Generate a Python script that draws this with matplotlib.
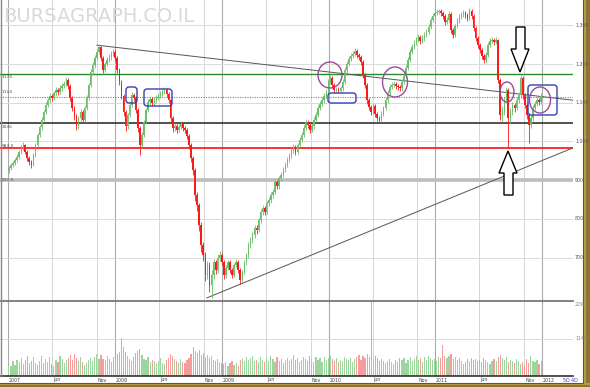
import matplotlib
matplotlib.use('Agg')
import matplotlib.pyplot as plt
import matplotlib.dates as mdates
from matplotlib.transforms import Affine2D, blended_transform_factory
from matplotlib.patches import Ellipse, FancyBboxPatch, Polygon, Rectangle
import datetime as dt

# ---------------- data (weekly candles, 2007-2011) ----------------
opens = [
 925, 931, 939, 944, 952, 959, 972, 983, 990, 972, 957, 946, 939, 965, 990, 1016, 1037, 1055, 1076, 1094, 1106, 1117, 1112, 1125, 1132, 1127, 1137, 1143, 1148, 1158, 1143, 1112, 1086, 1065, 1039, 1060, 1076, 1055, 1086, 1112, 1145, 1179, 1197, 1215, 1230, 1243, 1215, 1184, 1199, 1210, 1217, 1225,
 1230, 1215, 1184, 1153, 1117, 1076, 1039, 1068, 1094, 1119, 1112, 1081, 1034, 990, 1016, 1050, 1081, 1101, 1109, 1099, 1106, 1112, 1117, 1122, 1127, 1132, 1122, 1106, 1060, 1034, 1039, 1029, 1037, 1044, 1034, 1029, 1014, 990, 957, 926, 861, 836, 784, 732, 706, 655, 681, 629, 655, 688, 668, 699,
 706, 688, 655, 673, 688, 668, 655, 681, 688, 668, 642, 663, 688, 706, 732, 745, 758, 776, 771, 797, 818, 828, 818, 841, 848, 861, 869, 895, 884, 905, 913, 926, 939, 952, 962, 977, 985, 972, 990, 1003, 1016, 1034, 1050, 1042, 1029, 1039, 1055, 1068, 1086, 1096, 1106, 1117,
 1127, 1153, 1163, 1145, 1132, 1135, 1130, 1137, 1153, 1184, 1199, 1212, 1220, 1225, 1233, 1223, 1217, 1204, 1171, 1145, 1106, 1088, 1076, 1091, 1070, 1060, 1055, 1070, 1086, 1106, 1125, 1140, 1145, 1148, 1143, 1140, 1137, 1153, 1168, 1189, 1210, 1230, 1243, 1254, 1261, 1269, 1259, 1266, 1274, 1282, 1295, 1313,
 1323, 1331, 1334, 1335, 1331, 1323, 1308, 1313, 1328, 1287, 1274, 1297, 1310, 1321, 1326, 1331, 1326, 1318, 1336, 1323, 1292, 1266, 1248, 1235, 1220, 1210, 1223, 1248, 1259, 1261, 1256, 1261, 1158, 1068, 1076, 1106, 1132, 1060, 1076, 1094, 1086, 1106, 1119, 1163, 1119, 1094, 1068, 1042, 1060, 1086, 1096, 1106, 1101]
closes = [
 931, 939, 944, 952, 959, 972, 983, 990, 972, 957, 946, 939, 965, 990, 1016, 1037, 1055, 1076, 1094, 1106, 1117, 1112, 1125, 1132, 1127, 1137, 1143, 1148, 1158, 1143, 1112, 1086, 1065, 1039, 1060, 1076, 1055, 1086, 1112, 1145, 1179, 1197, 1215, 1230, 1243, 1215, 1184, 1199, 1210, 1217, 1225, 1230,
 1215, 1184, 1153, 1117, 1076, 1039, 1068, 1094, 1119, 1112, 1081, 1034, 990, 1016, 1050, 1081, 1101, 1109, 1099, 1106, 1112, 1117, 1122, 1127, 1132, 1122, 1106, 1060, 1034, 1039, 1029, 1037, 1044, 1034, 1029, 1014, 990, 957, 926, 861, 836, 784, 732, 706, 655, 681, 629, 655, 688, 668, 699, 706,
 688, 655, 673, 688, 668, 655, 681, 688, 668, 642, 663, 688, 706, 732, 745, 758, 776, 771, 797, 818, 828, 818, 841, 848, 861, 869, 895, 884, 905, 913, 926, 939, 952, 962, 977, 985, 972, 990, 1003, 1016, 1034, 1050, 1042, 1029, 1039, 1055, 1068, 1086, 1096, 1106, 1117, 1127,
 1153, 1163, 1145, 1132, 1135, 1130, 1137, 1153, 1184, 1199, 1212, 1220, 1225, 1233, 1223, 1217, 1204, 1171, 1145, 1106, 1088, 1076, 1091, 1070, 1060, 1055, 1070, 1086, 1106, 1125, 1140, 1145, 1148, 1143, 1140, 1137, 1153, 1168, 1189, 1210, 1230, 1243, 1254, 1261, 1269, 1259, 1266, 1274, 1282, 1295, 1313, 1323,
 1331, 1334, 1335, 1331, 1323, 1308, 1313, 1328, 1287, 1274, 1297, 1310, 1321, 1326, 1331, 1326, 1318, 1336, 1323, 1292, 1266, 1248, 1235, 1220, 1210, 1223, 1248, 1259, 1261, 1256, 1261, 1158, 1068, 1076, 1106, 1132, 1060, 1076, 1094, 1086, 1106, 1119, 1163, 1119, 1094, 1068, 1042, 1060, 1086, 1096, 1106, 1101, 1117]
highs = [
 937, 944, 950, 957, 966, 977, 990, 997, 994, 978, 961, 952, 969, 996, 1022, 1043, 1062, 1082, 1101, 1113, 1124, 1123, 1131, 1139, 1138, 1144, 1150, 1156, 1166, 1163, 1147, 1117, 1091, 1070, 1066, 1083, 1080, 1092, 1119, 1151, 1186, 1204, 1222, 1237, 1250, 1247, 1219, 1205, 1217, 1224, 1232, 1238,
 1236, 1219, 1189, 1158, 1122, 1081, 1074, 1101, 1128, 1125, 1116, 1086, 1039, 1023, 1056, 1087, 1108, 1116, 1114, 1113, 1119, 1124, 1129, 1134, 1140, 1137, 1127, 1110, 1065, 1046, 1044, 1044, 1051, 1049, 1039, 1034, 1019, 995, 962, 932, 870, 842, 792, 741, 714, 692, 688, 668, 697, 694, 708, 716,
 712, 693, 682, 695, 693, 673, 687, 696, 694, 672, 669, 694, 713, 739, 753, 766, 783, 784, 803, 825, 836, 833, 847, 856, 868, 877, 901, 900, 911, 921, 933, 946, 959, 969, 984, 992, 990, 996, 1010, 1023, 1041, 1057, 1055, 1047, 1046, 1062, 1075, 1093, 1103, 1113, 1124, 1134,
 1160, 1171, 1168, 1150, 1141, 1140, 1143, 1160, 1191, 1206, 1219, 1227, 1232, 1241, 1238, 1229, 1222, 1209, 1176, 1150, 1112, 1094, 1098, 1096, 1076, 1066, 1077, 1092, 1113, 1132, 1147, 1152, 1155, 1154, 1149, 1146, 1160, 1175, 1196, 1217, 1237, 1250, 1261, 1268, 1276, 1274, 1273, 1281, 1289, 1302, 1320, 1330,
 1338, 1341, 1342, 1340, 1336, 1328, 1320, 1335, 1333, 1293, 1303, 1317, 1328, 1333, 1338, 1336, 1331, 1343, 1341, 1328, 1297, 1272, 1254, 1241, 1226, 1230, 1255, 1266, 1268, 1267, 1268, 1265, 1164, 1090, 1114, 1140, 1137, 1085, 1102, 1100, 1114, 1127, 1171, 1168, 1124, 1100, 1074, 1068, 1093, 1104, 1113, 1112, 1124]
lows = [
 918, 926, 933, 940, 947, 954, 966, 977, 966, 950, 940, 930, 935, 960, 985, 1010, 1030, 1049, 1070, 1088, 1100, 1103, 1106, 1118, 1119, 1121, 1131, 1137, 1142, 1136, 1104, 1078, 1056, 1028, 1033, 1053, 1047, 1050, 1080, 1107, 1139, 1172, 1190, 1209, 1224, 1207, 1176, 1178, 1193, 1204, 1211, 1219,
 1208, 1176, 1145, 1108, 1066, 1027, 1032, 1062, 1088, 1104, 1073, 1025, 965, 982, 1010, 1044, 1075, 1094, 1091, 1093, 1100, 1106, 1111, 1116, 1121, 1115, 1098, 1050, 1025, 1027, 1021, 1023, 1031, 1027, 1021, 1006, 980, 946, 912, 846, 820, 768, 715, 690, 640, 645, 612, 596, 646, 657, 660, 690,
 680, 646, 648, 667, 660, 647, 650, 675, 660, 632, 636, 657, 682, 700, 725, 738, 751, 762, 765, 790, 811, 810, 812, 834, 842, 854, 863, 876, 878, 898, 907, 920, 933, 946, 956, 970, 964, 966, 984, 997, 1010, 1028, 1035, 1021, 1023, 1033, 1049, 1062, 1080, 1090, 1100, 1111,
 1121, 1147, 1138, 1125, 1126, 1124, 1125, 1131, 1147, 1177, 1193, 1206, 1214, 1219, 1216, 1210, 1197, 1163, 1137, 1097, 1080, 1068, 1070, 1062, 1052, 1047, 1049, 1064, 1080, 1100, 1119, 1134, 1139, 1136, 1133, 1130, 1131, 1147, 1162, 1183, 1204, 1224, 1237, 1248, 1255, 1252, 1253, 1260, 1268, 1276, 1289, 1307,
 1317, 1325, 1328, 1324, 1316, 1300, 1302, 1307, 1279, 1266, 1268, 1291, 1304, 1315, 1320, 1319, 1311, 1312, 1316, 1284, 1258, 1240, 1227, 1212, 1201, 1203, 1217, 1242, 1253, 1249, 1250, 1150, 1055, 1050, 1068, 1098, 983, 1048, 1068, 1076, 1080, 1100, 1112, 1110, 1085, 1058, 996, 1034, 1053, 1080, 1090, 1093, 1095]
volumes = [
 3.0, 3.2, 4.5, 3.4, 4.8, 4.2, 5.6, 3.8, 4.9, 6.0, 4.1, 4.6, 5.9, 4.0, 3.5, 4.7, 6.2, 3.9, 5.3, 4.4, 5.8, 3.6, 3.1, 4.9, 4.2, 6.0, 5.2, 4.0, 4.8, 5.5, 6.3, 5.0, 6.8, 5.4, 4.7, 5.9, 4.3, 3.4, 4.1, 5.0, 5.6, 4.6, 5.8, 6.6, 5.1, 6.4, 5.3, 4.8, 6.0, 5.2, 4.4, 5.7,
 5.5, 6.8, 7.4, 11.6, 8.9, 7.2, 6.1, 5.3, 4.6, 5.8, 6.9, 7.5, 8.1, 6.4, 5.2, 4.8, 5.9, 4.3, 5.0, 4.5, 3.9, 4.7, 5.4, 4.1, 3.8, 4.9, 5.6, 6.8, 6.0, 5.2, 4.6, 4.0, 5.1, 4.4, 3.9, 4.8, 5.5, 6.6, 8.8, 7.6, 6.9, 7.8, 6.5, 7.1, 5.9, 6.3, 5.4, 6.2, 5.0, 4.6, 5.3, 4.2,
 4.1, 3.6, 4.4, 3.2, 3.9, 4.6, 3.5, 4.0, 3.1, 4.8, 5.2, 4.5, 5.9, 4.8, 5.4, 6.1, 4.6, 5.0, 4.2, 5.7, 4.9, 4.3, 5.5, 4.7, 6.0, 5.1, 4.4, 5.8, 4.6, 5.3, 4.1, 4.9, 5.6, 4.5, 5.2, 6.3, 4.8, 5.5, 4.3, 5.0, 5.9, 5.3, 4.6, 6.0, 5.1, 4.4, 5.7, 4.9, 5.4, 4.2, 5.8, 5.0,
 5.6, 6.2, 5.1, 4.7, 5.5, 4.3, 5.0, 4.6, 5.9, 5.2, 4.8, 5.6, 4.4, 5.1, 5.8, 6.4, 5.0, 6.2, 5.5, 6.7, 5.9, 22.6, 5.3, 6.0, 5.4, 4.7, 5.2, 4.5, 3.9, 4.6, 5.1, 4.2, 3.8, 4.9, 4.3, 5.5, 4.8, 5.6, 4.1, 5.0, 5.7, 4.6, 5.3, 6.1, 4.9, 5.4, 4.4, 5.8, 5.0, 6.2, 5.5, 4.8,
 5.2, 4.6, 5.9, 5.4, 9.5, 6.2, 5.5, 6.0, 6.6, 5.3, 5.8, 4.9, 5.4, 4.6, 3.8, 4.4, 5.1, 4.7, 5.5, 4.9, 5.3, 4.6, 5.0, 4.2, 5.6, 4.8, 4.3, 3.6, 4.5, 5.2, 4.7, 5.9, 6.4, 5.5, 4.8, 5.7, 4.2, 5.0, 4.5, 3.9, 5.3, 4.6, 3.8, 4.4, 3.5, 5.1, 4.0, 6.0, 4.7, 4.3, 4.9, 3.8, 4.6]

first_week = dt.date(2007, 1, 4)
price_grid = [1300, 1200, 1100, 1000, 800, 700]
price_labels = ['1,300', '1,200', '1,100', '1,000', '900', '800', '700']
price_label_vals = [1300, 1200, 1100, 1000, 900, 800, 700]
level_green, level_dotted, level_black, level_red, level_gray = 1174, 1114, 1047, 983, 900
level_texts = ['1174', '1114', '1046', '983.0', '900.0']
vol_max = 22.9
vol_labels = ['2290', '1145']
years = [2007, 2008, 2009, 2010, 2011, 2012]
month_ticks = [(6, 'Jun'), (11, 'Nov')]
trend_down = (dt.date(2007, 11, 1), 1248, dt.date(2012, 4, 16), 1106)
trend_up = (dt.date(2008, 11, 11), 596, dt.date(2012, 4, 16), 983)

# ---------------- figure ----------------
W, H = 590, 387
fig = plt.figure(figsize=(W / 100, H / 100), dpi=100)
fig.patch.set_facecolor('white')
PX = Affine2D().scale(1 / W, -1 / H).translate(0, 1) + fig.transFigure

AX_R = 573
axp = fig.add_axes([0, 1 - 301 / H, AX_R / W, 301 / H])
axv = fig.add_axes([0, 1 - 376 / H, AX_R / W, 75 / H])

d2007 = mdates.date2num(dt.date(2007, 1, 1))
d2012 = mdates.date2num(dt.date(2012, 1, 1))
ppd = (542 - 8) / (d2012 - d2007)
xlim = (d2007 - 8 / ppd, d2012 + (AX_R - 542) / ppd)

dates = [mdates.date2num(first_week + dt.timedelta(days=7 * i)) for i in range(len(closes))]
up = [c >= o for o, c in zip(opens, closes)]

for ax in (axp, axv):
    ax.set_xlim(*xlim)
    ax.set_facecolor('white')
    for s in ax.spines.values():
        s.set_visible(False)
    ax.set_xticks([])
    ax.set_yticks([])
    for y in years:
        ax.axvline(mdates.date2num(dt.date(y, 1, 1)), color='#a9a9a9', lw=0.8, zorder=1)
        for m, _ in month_ticks:
            if y < 2012:
                ax.axvline(mdates.date2num(dt.date(y, m, 1)), color='#d6d6d6', lw=0.7, zorder=1)

axp.set_ylim(588, 1364.5)
axv.set_ylim(0, vol_max)

for v in price_grid:
    axp.axhline(v, color='#dadada', lw=0.7, zorder=1)
axp.axhline(level_gray, color='#bdbdbd', lw=2.6, zorder=1)
axp.axhline(level_green, color='#2b8a2b', lw=1.0, zorder=3)
axp.axhline(level_dotted, color='#808080', lw=0.8, ls=(0, (1, 1.2)), zorder=3)
axp.axhline(level_black, color='#333333', lw=1.2, zorder=3)
axp.axhline(level_red, color='#ff2020', lw=1.3, zorder=3)

# trendlines
for (da, va, db, vb) in (trend_down, trend_up):
    axp.plot([mdates.date2num(da), mdates.date2num(db)], [va, vb], color='#555555', lw=0.7, zorder=3)

# candles
up_col, dn_col = '#6cbd6c', '#ff1a1a'
cols = [up_col if u else dn_col for u in up]
axp.vlines(dates, lows, highs, colors=cols, lw=0.6, zorder=4)
bottoms = [min(o, c) for o, c in zip(opens, closes)]
heights = [max(abs(c - o), 1.5) for o, c in zip(opens, closes)]
widths = [4.5 if u else 6.0 for u in up]
axp.bar(dates, heights, bottom=bottoms, width=widths, color=cols, lw=0, zorder=5)

# volume
vcols = ['#9ed49e' if u else '#f59c9c' for u in up]
axv.bar(dates, volumes, width=4, color=vcols, lw=0, zorder=3)
axv.axhline(vol_max / 2, color='#dadada', lw=0.7, zorder=1)

# panel borders
def hline_px(y, x0, x1, color, lw):
    fig.add_artist(plt.Line2D([x0, x1], [y, y], transform=PX, color=color, lw=lw))

hline_px(301, 0, AX_R, '#777777', 1.3)
hline_px(376, 0, AX_R, '#333333', 1.2)
fig.add_artist(plt.Line2D([1, 1], [0, 376], transform=PX, color='#888888', lw=1.0))

# right axis labels
for lab, v in zip(price_labels, price_label_vals):
    ypx = (1364.5 - v) / (1364.5 - 588) * 301
    fig.text(575, ypx, lab, transform=PX, fontsize=3.4, color='#555555', va='center', ha='left')
fig.text(575, 305, vol_labels[0], transform=PX, fontsize=3.4, color='#888888', va='center', ha='left')
fig.text(575, 338, vol_labels[1], transform=PX, fontsize=3.4, color='#888888', va='center', ha='left')

# left level labels
for txt, ypx in zip(level_texts, [77, 92, 127, 146, 180]):
    fig.text(1.5, ypx, txt, transform=PX, fontsize=3.2, color='#555555', va='center', ha='left')

# x labels
xt = blended_transform_factory(axv.transData, PX)
for y in years:
    axv.text(mdates.date2num(dt.date(y, 1, 1)) + 3, 380, str(y), transform=xt,
             fontsize=3.4, color='#444444', va='center', ha='left', clip_on=False)
    if y < 2012:
        for m, name in month_ticks:
            axv.text(mdates.date2num(dt.date(y, m, 1)) + 3, 380, name, transform=xt,
                     fontsize=3.4, color='#444444', va='center', ha='left', clip_on=False)
fig.text(563, 380, '5D 4D', transform=PX, fontsize=3.4, color='#3a3ad0', va='center', ha='left')

# watermark
fig.text(3, 16, 'BURSAGRAPH.CO.IL', transform=PX, fontsize=14,
         family=['Liberation Sans Narrow', 'DejaVu Sans'], color='#d9d9d9', va='center', ha='left')

# annotations (pixel positions from the reference)
purple, blue = '#9a4a9a', '#3340b8'
for (x0, y0, x1, y1) in [(126, 87, 137, 103), (144, 89, 172, 106), (328, 93, 356, 103), (528, 85, 557, 115)]:
    fig.add_artist(FancyBboxPatch((x0, y0), x1 - x0, y1 - y0, boxstyle='round,pad=0,rounding_size=3',
                                  transform=PX, fill=False, ec=blue, lw=1.0))
for (cx, cy, w, h) in [(330, 75, 24, 26), (395, 82, 25, 30), (507, 92, 14, 20), (540, 100, 21, 26)]:
    fig.add_artist(Ellipse((cx, cy), w, h, transform=PX, fill=False, ec=purple, lw=1.0))

fig.add_artist(Polygon([(516, 27), (525, 27), (525, 49), (529, 49), (520, 72), (511, 49), (516, 49)],
                       closed=True, transform=PX, fc='white', ec='black', lw=1.0))
fig.add_artist(Polygon([(508, 151), (517, 173), (513, 173), (513, 195), (504, 195), (504, 173), (499, 173)],
                       closed=True, transform=PX, fc='white', ec='black', lw=1.0))

# golden frame
fig.add_artist(Rectangle((583, 0), 7, 387, transform=PX, fc='#b89c48', ec='none'))
fig.add_artist(Rectangle((586, 0), 4, 387, transform=PX, fc='#8d7530', ec='none'))
fig.add_artist(Rectangle((0, 383), 590, 4, transform=PX, fc='#b89c48', ec='none'))
fig.add_artist(Rectangle((0, 385), 590, 2, transform=PX, fc='#8d7530', ec='none'))
fig.add_artist(plt.Line2D([582.5, 582.5], [0, 383], transform=PX, color='#555555', lw=0.8))
fig.add_artist(plt.Line2D([0, 583], [382.5, 382.5], transform=PX, color='#555555', lw=0.8))

fig.savefig('out.png', dpi=100)
